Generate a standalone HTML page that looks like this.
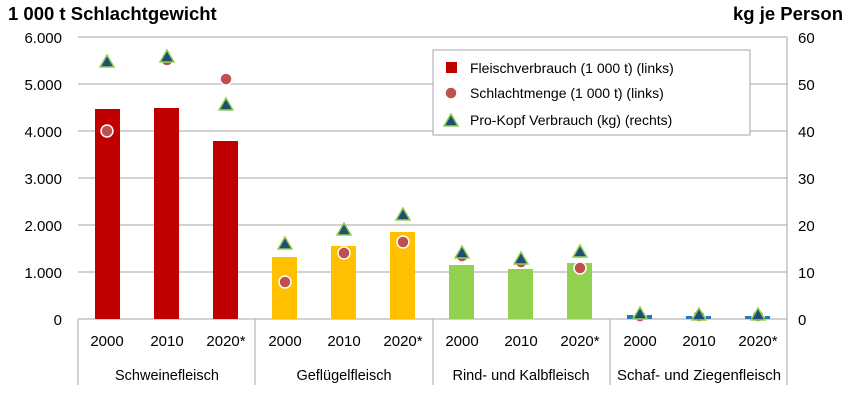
<!DOCTYPE html><html><head><meta charset="utf-8"><style>body{margin:0;background:#fff}svg{display:block;font-family:"Liberation Sans",sans-serif}</style></head><body>
<svg width="854" height="400" xmlns="http://www.w3.org/2000/svg">
<defs>
<g id="tri"><polygon points="0,-7 7,5 -7,5" fill="#1f4e79" stroke="#92d050" stroke-width="1.5"/></g>
<g id="cir"><circle r="6" fill="#c0504d" stroke="#fff" stroke-width="1.5"/></g>
</defs>
<text x="8" y="20" font-size="18.5" font-weight="bold">1 000 t Schlachtgewicht</text>
<text x="843" y="20" font-size="18.5" font-weight="bold" text-anchor="end">kg je Person</text>
<g stroke="#a6a6a6" stroke-width="1">
<line x1="78" y1="37" x2="787" y2="37"/><line x1="78" y1="84" x2="787" y2="84"/><line x1="78" y1="131" x2="787" y2="131"/><line x1="78" y1="178" x2="787" y2="178"/><line x1="78" y1="225" x2="787" y2="225"/><line x1="78" y1="272" x2="787" y2="272"/><line x1="78" y1="319" x2="787" y2="319"/>
<line x1="787" y1="37" x2="787" y2="319"/>
<line x1="78" y1="319" x2="78" y2="385"/><line x1="255" y1="319" x2="255" y2="385"/><line x1="433" y1="319" x2="433" y2="385"/><line x1="610" y1="319" x2="610" y2="385"/><line x1="787" y1="319" x2="787" y2="385"/>
</g>
<g font-size="15" text-anchor="end">
<text x="62" y="43">6.000</text><text x="62" y="90">5.000</text><text x="62" y="137">4.000</text><text x="62" y="184">3.000</text><text x="62" y="231">2.000</text><text x="62" y="278">1.000</text><text x="62" y="325">0</text>
</g>
<g font-size="15">
<text x="798" y="43">60</text><text x="798" y="90">50</text><text x="798" y="137">40</text><text x="798" y="184">30</text><text x="798" y="231">20</text><text x="798" y="278">10</text><text x="798" y="325">0</text>
</g>
<g fill="#c00000"><rect x="95" y="109" width="25" height="210"/><rect x="154" y="108" width="25" height="211"/><rect x="213" y="141" width="25" height="178"/></g>
<g fill="#ffc000"><rect x="272" y="257" width="25" height="62"/><rect x="331" y="246" width="25" height="73"/><rect x="390" y="232" width="25" height="87"/></g>
<g fill="#92d050"><rect x="449" y="265" width="25" height="54"/><rect x="508" y="269" width="25" height="50"/><rect x="567" y="263" width="25" height="56"/></g>
<g fill="#2e75b6"><rect x="627" y="315" width="25" height="4"/><rect x="686" y="316" width="25" height="3"/><rect x="745" y="316" width="25" height="3"/></g>
<use href="#cir" x="107" y="131"/><use href="#cir" x="167" y="60"/><use href="#cir" x="226" y="79"/>
<use href="#cir" x="285" y="282"/><use href="#cir" x="344" y="253"/><use href="#cir" x="403" y="242"/>
<use href="#cir" x="462" y="256"/><use href="#cir" x="521" y="262"/><use href="#cir" x="580" y="268"/>
<use href="#cir" x="640" y="316"/><use href="#cir" x="699" y="316"/><use href="#cir" x="758" y="316"/>
<use href="#tri" x="107" y="62"/><use href="#tri" x="167" y="57"/><use href="#tri" x="226" y="105"/>
<use href="#tri" x="285" y="244"/><use href="#tri" x="344" y="230"/><use href="#tri" x="403" y="215"/>
<use href="#tri" x="462" y="253"/><use href="#tri" x="521" y="259"/><use href="#tri" x="580" y="252"/>
<use href="#tri" x="640" y="314"/><use href="#tri" x="699" y="315"/><use href="#tri" x="758" y="315"/>
<g font-size="15" text-anchor="middle">
<text x="107" y="346">2000</text><text x="167" y="346">2010</text><text x="226" y="346">2020*</text>
<text x="285" y="346">2000</text><text x="344" y="346">2010</text><text x="403" y="346">2020*</text>
<text x="462" y="346">2000</text><text x="521" y="346">2010</text><text x="580" y="346">2020*</text>
<text x="640" y="346">2000</text><text x="699" y="346">2010</text><text x="758" y="346">2020*</text>
</g>
<g font-size="14.5" text-anchor="middle">
<text x="167" y="380">Schweinefleisch</text><text x="344" y="380">Geflügelfleisch</text><text x="521" y="380">Rind- und Kalbfleisch</text><text x="699" y="380" textLength="164" lengthAdjust="spacingAndGlyphs">Schaf- und Ziegenfleisch</text>
</g>
<rect x="433" y="50" width="317" height="85" fill="#fff" stroke="#a6a6a6"/>
<rect x="446" y="62" width="11" height="11" fill="#c00000"/>
<use href="#cir" x="451" y="93"/>
<use href="#tri" x="451" y="121"/>
<g font-size="14"><text x="470" y="73">Fleischverbrauch (1 000 t) (links)</text><text x="470" y="98">Schlachtmenge (1 000 t) (links)</text><text x="470" y="125">Pro-Kopf Verbrauch (kg) (rechts)</text></g>
</svg></body></html>
